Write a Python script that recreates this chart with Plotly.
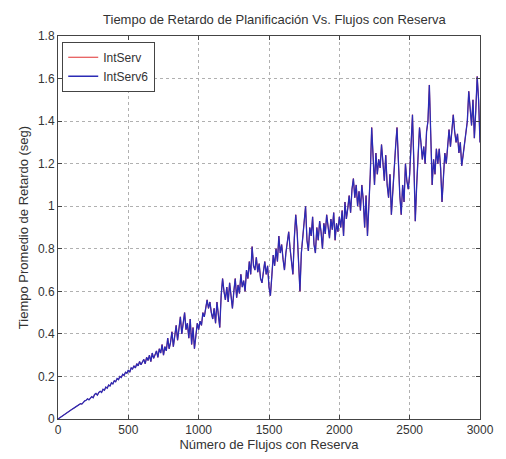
import plotly.graph_objects as go

# numero de flujos con reserva (paso de 10)
flujos = list(range(0, 3001, 10))

retardo = [
    0.00, 0.005, 0.01, 0.015, 0.02, 0.022, 0.028, 0.033, 0.036, 0.042,
    0.046, 0.05, 0.055, 0.058, 0.064, 0.068, 0.072, 0.07, 0.08, 0.085,
    0.088, 0.095, 0.09, 0.1, 0.105, 0.1, 0.115, 0.12, 0.112, 0.125,
    0.13, 0.125, 0.14, 0.135, 0.15, 0.145, 0.16, 0.155, 0.17, 0.165,
    0.18, 0.175, 0.19, 0.185, 0.2, 0.195, 0.21, 0.205, 0.22, 0.215,
    0.23, 0.22, 0.24, 0.235, 0.25, 0.24, 0.26, 0.25, 0.27, 0.255,
    0.265, 0.28, 0.26, 0.29, 0.275, 0.3, 0.27, 0.31, 0.285, 0.3,
    0.32, 0.29, 0.33, 0.31, 0.35, 0.3, 0.34, 0.32, 0.38, 0.33,
    0.36, 0.41, 0.34, 0.39, 0.44, 0.37, 0.43, 0.48, 0.4, 0.46,
    0.5, 0.42, 0.45, 0.38, 0.47, 0.35, 0.43, 0.33, 0.41, 0.45,
    0.42, 0.46, 0.44, 0.5, 0.48, 0.53, 0.56, 0.52, 0.55, 0.5,
    0.47, 0.52, 0.45, 0.55, 0.5, 0.43, 0.58, 0.66, 0.6, 0.56,
    0.62, 0.55, 0.64, 0.58, 0.52, 0.6, 0.66, 0.57, 0.63, 0.59,
    0.68, 0.62, 0.65, 0.6, 0.7, 0.66, 0.74, 0.68, 0.81, 0.72,
    0.7, 0.76, 0.69, 0.73, 0.66, 0.64, 0.7, 0.74, 0.68, 0.72,
    0.62, 0.58, 0.67, 0.77, 0.72, 0.8, 0.74, 0.86, 0.78, 0.82,
    0.75, 0.7, 0.78, 0.84, 0.88, 0.8, 0.74, 0.68, 0.85, 0.96,
    0.88, 0.7, 0.6, 0.78, 0.85, 0.92, 1.0, 0.84, 0.79, 0.9,
    0.86, 0.95, 0.82, 0.78, 0.9, 0.84, 0.93, 0.88, 0.8, 0.92,
    0.87, 0.96, 0.9, 0.85, 0.94, 0.89, 0.97, 0.84, 0.92, 0.88,
    0.95, 0.9, 0.98, 0.86, 1.02, 0.94, 0.99, 1.05, 0.97, 1.08,
    1.13, 1.04, 1.1, 1.0, 1.07, 0.98, 1.1, 1.03, 0.9, 1.05,
    0.86, 1.0, 1.15, 1.37, 1.2, 1.1, 1.25, 1.15, 1.22, 1.18,
    1.29, 1.2, 1.12, 1.24, 1.1, 1.04, 1.15, 0.96, 1.08, 1.2,
    1.28, 1.37, 1.2, 1.05, 0.96, 1.1, 1.02, 1.2, 1.12, 1.08,
    1.15, 1.28, 1.43, 1.2, 0.93, 1.1, 1.25, 1.37, 1.3, 1.22,
    1.28, 1.2, 1.35, 1.4, 1.57, 1.3, 1.1, 1.22, 1.15, 1.27,
    1.2, 1.27, 1.18, 1.02, 1.15, 1.25, 1.2, 1.3, 1.36, 1.28,
    1.38, 1.43, 1.35, 1.3, 1.34, 1.25, 1.3, 1.19, 1.24, 1.3,
    1.33, 1.4, 1.54, 1.45, 1.38, 1.5, 1.32, 1.45, 1.61, 1.5,
    1.3,
]

fig = go.Figure()
fig.add_trace(go.Scatter(x=flujos, y=retardo, mode="lines", name="IntServ",
                         line=dict(color="#e03030", width=1)))
fig.add_trace(go.Scatter(x=flujos, y=retardo, mode="lines", name="IntServ6",
                         line=dict(color="#2b2bb5", width=1.3)))

fnt = "Liberation Sans, Arial, sans-serif"
ax = dict(showline=True, linecolor="#444", linewidth=1, mirror="allticks",
          ticks="inside", ticklen=4, tickcolor="#444",
          showgrid=True, gridcolor="#b0b0b0", griddash="dot", gridwidth=1,
          zeroline=False, tickfont=dict(size=12, color="#333"),
          title_font=dict(size=13, color="#333"))

fig.update_layout(
    width=498, height=451,
    margin=dict(l=50, r=26, t=28, b=34),
    paper_bgcolor="white", plot_bgcolor="white",
    font=dict(family=fnt, color="#333"),
    title=dict(text="Tiempo de Retardo de Planificación Vs. Flujos con Reserva",
               x=0.535, xanchor="center", yref="container", y=0.975,
               yanchor="middle", font=dict(size=13)),
    xaxis=dict(ax, range=[0, 3000], tickvals=[0, 500, 1000, 1500, 2000, 2500, 3000],
               title=dict(text="Número de Flujos con Reserva", standoff=0)),
    yaxis=dict(ax, range=[0, 1.8], dtick=0.2, tickformat="~g",
               title=dict(text="Tiempo Promedio de Retardo (seg)", standoff=6)),
    legend=dict(x=0.01, y=0.985, xanchor="left", yanchor="top",
                bordercolor="#444", borderwidth=1, bgcolor="white",
                font=dict(size=12, color="#333"), tracegroupgap=0),
    showlegend=True,
)

fig.write_html("out.html")
